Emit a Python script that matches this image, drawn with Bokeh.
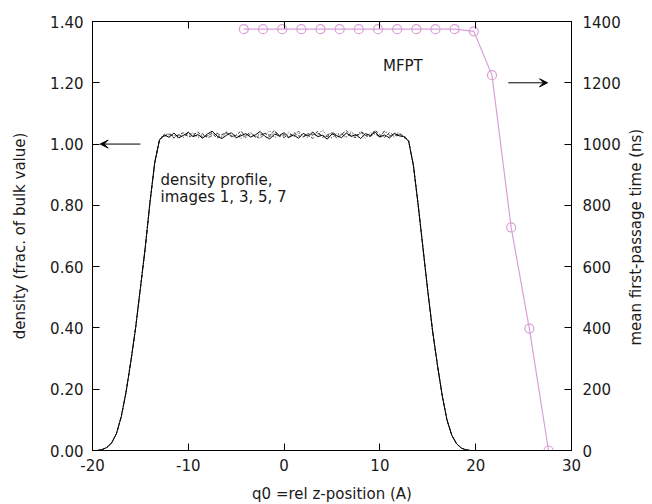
import math
from bokeh.plotting import figure
from bokeh.models import (Range1d, LinearAxis, FixedTicker, NumeralTickFormatter, Arrow, VeeHead, Label,
                          CustomJSTickFormatter)
from bokeh.embed import file_html
from bokeh.resources import INLINE

FONT = "DejaVu Sans"

# ---- data ----
z = [-20.0, -19.5, -19.0, -18.5, -18.0, -17.5, -17.0, -16.5, -16.0, -15.5, -15.0, -14.5, -14.0, -13.5, -13.0,
     -12.5, -12.0, -11.5, -11.0, -10.5, -10.0, -9.5, -9.0, -8.5, -8.0, -7.5, -7.0, -6.5, -6.0, -5.5, -5.0,
     -4.5, -4.0, -3.5, -3.0, -2.5, -2.0, -1.5, -1.0, -0.5, 0.0, 0.5, 1.0, 1.5, 2.0, 2.5, 3.0, 3.5, 4.0,
     4.5, 5.0, 5.5, 6.0, 6.5, 7.0, 7.5, 8.0, 8.5, 9.0, 9.5, 10.0, 10.5, 11.0, 11.5, 12.0, 12.5,
     13.0, 13.5, 14.0, 14.5, 15.0, 15.5, 16.0, 16.5, 17.0, 17.5, 18.0, 18.5, 19.0, 19.5, 20.0]

edge_left = [0.000, 0.000, 0.003, 0.010, 0.025, 0.055, 0.110, 0.190, 0.290, 0.400, 0.530, 0.660, 0.810, 0.940, 1.015]
edge_right = [1.010, 0.930, 0.800, 0.660, 0.520, 0.390, 0.280, 0.180, 0.100, 0.050, 0.022, 0.008, 0.002, 0.000, 0.000]

plateau_img1 = [1.030, 1.022, 1.036, 1.021, 1.028, 1.039, 1.024, 1.031, 1.019, 1.033,
                1.042, 1.026, 1.018, 1.029, 1.037, 1.021, 1.027, 1.034, 1.023, 1.030,
                1.041, 1.025, 1.017, 1.032, 1.028, 1.037, 1.022, 1.030, 1.019, 1.035,
                1.026, 1.039, 1.024, 1.029, 1.016, 1.033, 1.027, 1.021, 1.036, 1.025,
                1.031, 1.018, 1.034, 1.028, 1.040, 1.023, 1.030, 1.020, 1.035, 1.027,
                1.024]
plateau_img3 = [1.025, 1.033, 1.020, 1.030, 1.037, 1.023, 1.029, 1.040, 1.022, 1.027,
                1.035, 1.019, 1.031, 1.038, 1.024, 1.028, 1.043, 1.021, 1.033, 1.026,
                1.018, 1.036, 1.029, 1.045, 1.024, 1.031, 1.020, 1.038, 1.027, 1.023,
                1.034, 1.029, 1.041, 1.022, 1.030, 1.037, 1.019, 1.032, 1.044, 1.026,
                1.021, 1.039, 1.028, 1.024, 1.046, 1.030, 1.022, 1.038, 1.027, 1.033,
                1.026]
plateau_img5 = [1.034, 1.026, 1.029, 1.018, 1.033, 1.027, 1.038, 1.021, 1.030, 1.025,
                1.039, 1.031, 1.022, 1.035, 1.026, 1.032, 1.017, 1.029, 1.037, 1.024,
                1.033, 1.028, 1.044, 1.020, 1.031, 1.026, 1.040, 1.023, 1.036, 1.029,
                1.021, 1.034, 1.027, 1.047, 1.025, 1.020, 1.035, 1.030, 1.023, 1.041,
                1.028, 1.034, 1.019, 1.037, 1.031, 1.026, 1.043, 1.024, 1.032, 1.038,
                1.022]
plateau_img7 = [1.027, 1.035, 1.024, 1.031, 1.022, 1.036, 1.029, 1.026, 1.034, 1.020,
                1.028, 1.036, 1.025, 1.040, 1.027, 1.019, 1.032, 1.028, 1.038, 1.022,
                1.029, 1.035, 1.024, 1.039, 1.030, 1.021, 1.034, 1.026, 1.042, 1.025,
                1.031, 1.018, 1.035, 1.028, 1.024, 1.039, 1.029, 1.033, 1.022, 1.037,
                1.026, 1.042, 1.030, 1.025, 1.036, 1.021, 1.044, 1.029, 1.023, 1.031,
                1.028]

mfpt_x = [-4.2, -2.2, -0.2, 1.8, 3.8, 5.8, 7.8, 9.8, 11.8, 13.8, 15.8, 17.8, 19.8, 21.7, 23.7, 25.6, 27.6]
mfpt_y = [1375, 1375, 1375, 1375, 1375, 1375, 1375, 1375, 1375, 1375, 1375, 1375, 1368, 1225, 728, 398, 0]

x_ticks = [-20, -10, 0, 10, 20, 30]
y_ticks = [0.0, 0.2, 0.4, 0.6, 0.8, 1.0, 1.2, 1.4]
y2_ticks = [0, 200, 400, 600, 800, 1000, 1200, 1400]

Y2_TITLE = "mean first-passage time (ns)"

# ---- figure ----
p = figure(frame_width=479, frame_height=429,
           x_range=Range1d(-20, 30), y_range=Range1d(0, 1.4),
           output_backend="svg", toolbar_location=None,
           min_border_left=92, min_border_right=81, min_border_top=21, min_border_bottom=54)
p.extra_y_ranges = {"mfpt": Range1d(0, 1400)}
p.xgrid.visible = False
p.ygrid.visible = False
p.outline_line_color = "black"
p.outline_line_width = 1
p.background_fill_color = "white"
p.border_fill_color = "white"


def style(ax):
    ax.major_tick_in = 7
    ax.major_tick_out = 0
    ax.minor_tick_line_color = None
    ax.axis_line_color = "black"
    ax.major_tick_line_color = "black"
    ax.major_label_text_font = FONT
    ax.major_label_text_font_size = "15px"
    ax.major_label_text_color = "#1a1a1a"
    ax.axis_label_text_font = FONT
    ax.axis_label_text_font_size = "15px"
    ax.axis_label_text_font_style = "normal"
    ax.axis_label_text_color = "#1a1a1a"


xa = p.xaxis[0]
style(xa)
xa.ticker = FixedTicker(ticks=x_ticks)
xa.formatter = NumeralTickFormatter(format="0")
xa.major_label_standoff = 8
xa.axis_label = "q0 =rel z-position (A)"
xa.axis_label_standoff = 11

ya = p.yaxis[0]
style(ya)
ya.ticker = FixedTicker(ticks=y_ticks)
ya.formatter = NumeralTickFormatter(format="0.00")
ya.major_label_standoff = 9
ya.axis_label = "density (frac. of bulk value)"
ya.axis_label_standoff = 18

top = LinearAxis(ticker=FixedTicker(ticks=x_ticks), formatter=CustomJSTickFormatter(code="return ''"))
style(top)
top.major_label_standoff = 0
p.add_layout(top, "above")

ra = LinearAxis(y_range_name="mfpt", ticker=FixedTicker(ticks=y2_ticks),
                formatter=NumeralTickFormatter(format="0"))
style(ra)
ra.major_label_standoff = 11
p.add_layout(ra, "right")

# invisible second right axis carrying the rotated (bottom-to-top) title
ra2 = LinearAxis(y_range_name="mfpt", ticker=FixedTicker(ticks=[]),
                 formatter=CustomJSTickFormatter(code="return ''"))
style(ra2)
ra2.axis_line_color = None
ra2.major_tick_line_color = None
ra2.major_label_standoff = 0
ra2.axis_label = Y2_TITLE
ra2.axis_label_standoff = 12
try:
    ra2.axis_label_orientation = math.pi / 2
    ra2.axis_label_align = "start"
    ra2.axis_label = "\u00a0" * 22 + Y2_TITLE
except Exception:
    pass
p.add_layout(ra2, "right")

# ---- density profiles ----
dens1 = edge_left + plateau_img1 + edge_right
dens3 = edge_left + plateau_img3 + edge_right
dens5 = edge_left + plateau_img5 + edge_right
dens7 = edge_left + plateau_img7 + edge_right

p.line(z, dens7, line_color="#444444", line_width=1, line_dash="4 2 1 2")
p.line(z, dens5, line_color="#444444", line_width=1, line_dash="1 2")
p.line(z, dens3, line_color="#333333", line_width=1, line_dash="3 2")
p.line(z, dens1, line_color="black", line_width=1)

# ---- MFPT ----
PLUM = "#d9a0d6"
p.line(mfpt_x, mfpt_y, y_range_name="mfpt", line_color=PLUM, line_width=1.2)
p.scatter(mfpt_x, mfpt_y, y_range_name="mfpt", marker="circle", size=9,
          fill_color=None, line_color=PLUM, line_width=1.2)

# ---- annotations ----
p.add_layout(Arrow(x_start=-15.0, y_start=1.0, x_end=-19.2, y_end=1.0, line_width=1, line_color="black",
                   end=VeeHead(size=8, fill_color="black", line_color="black", line_width=1)))
p.add_layout(Arrow(x_start=23.4, y_start=1200, x_end=27.5, y_end=1200, y_range_name="mfpt",
                   line_width=1, line_color="black",
                   end=VeeHead(size=8, fill_color="black", line_color="black", line_width=1)))

for txt, lx, ly, al in [("MFPT", 12.4, 1.256, "center"),
                        ("density profile,", -12.9, 0.884, "left"),
                        ("images 1, 3, 5, 7", -12.9, 0.826, "left")]:
    p.add_layout(Label(x=lx, y=ly, text=txt, text_align=al, text_baseline="alphabetic",
                       text_font=FONT, text_font_size="15px", text_color="#1a1a1a"))

open("out.html", "w").write(file_html(p, INLINE))
